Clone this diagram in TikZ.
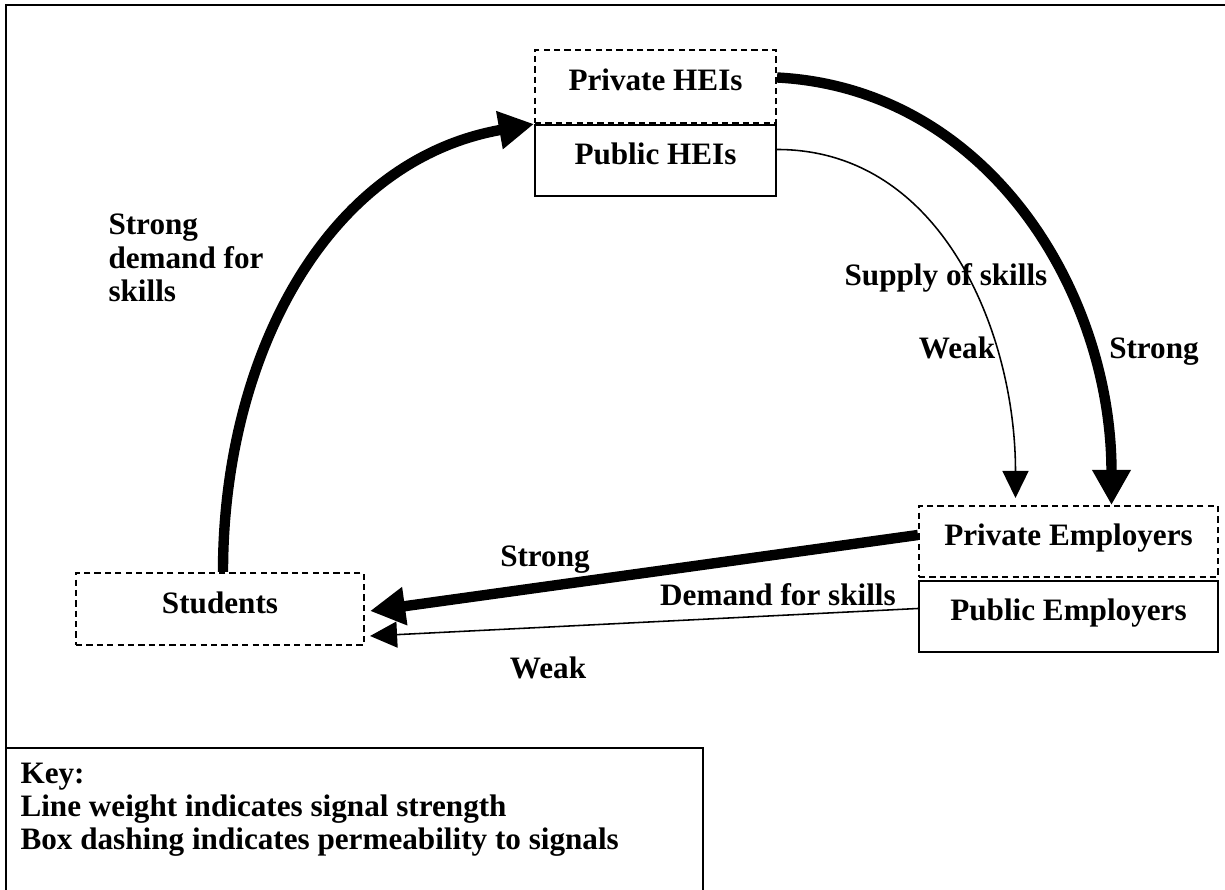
\documentclass[tikz,border=0pt]{standalone}
\usepackage{fontspec}
\setmainfont{Liberation Serif}
\usetikzlibrary{arrows.meta,calc}

\begin{document}
\begin{tikzpicture}[x=0.385pt,y=0.385pt,
        font=\bfseries\fontsize{12}{13}\selectfont,
        dashbox/.style={draw,line width=0.8pt,dash pattern=on 2.4pt off 1.6pt,inner sep=0pt,text height=9pt,text depth=5.6pt},
        solidbox/.style={draw,line width=0.8pt,inner sep=0pt,text height=9pt,text depth=5.6pt},
        strongsig/.style={line width=4pt,-{Triangle[length=13.5pt,width=14pt]}},
        weaksig/.style={line width=0.6pt,-{Triangle[length=10.4pt,width=10pt]}},
        lbl/.style={inner sep=0pt,text height=8pt,text depth=0pt}]
        \useasboundingbox (0,0) rectangle (1225,-890);
        %% Frame
        \draw[line width=0.8pt] (1230,-5) -- (6,-5) -- (6,-748);
        %% HEIs
        \node[dashbox,minimum width=92.8pt,minimum height=28.1pt] (prihei) at (655.5,-86.5) {Private HEIs};
        \node[solidbox,minimum width=92.8pt,minimum height=27.3pt] (pubhei) at (655.5,-160.5) {Public HEIs};
        %% Employers
        \node[dashbox,minimum width=115.1pt,minimum height=27.3pt] (priemp) at (1068.5,-541.5) {Private Employers};
        \node[solidbox,minimum width=115.1pt,minimum height=27.3pt] (pubemp) at (1068.5,-616.5) {Public Employers};
        %% Students
        \node[dashbox,minimum width=110.9pt,minimum height=27.7pt] (students) at (220,-609) {Students};
        %% Signals
        \draw[strongsig] ($(students.north)+(3,0)$) to[out=90,in=190] (prihei.south west);
        \draw[strongsig] ($(prihei.east)+(0,9)$) to[out=-3,in=90] ($(priemp.north)+(43,0)$);
        \draw[weaksig] ($(pubhei.east)+(0,11)$) to[out=0,in=90] ($(priemp.north)+(-53,7)$);
        \draw[strongsig] ($(priemp.west)+(0,6.5)$) -- ($(students.east)+(5,-2)$);
        \draw[weaksig] ($(pubemp.west)+(0,8)$) -- ($(students.east)+(5,-27)$);
        %% Labels
        \node[anchor=west,align=left,inner sep=0pt] (lbldemand) at (108,-258) {Strong\\demand for\\skills};
        \node[lbl] (lblsupply) at (946,-275) {Supply of skills};
        \node[lbl] (lblweaksup) at (957,-348) {Weak};
        \node[lbl] (lblstrongsup) at (1154,-348) {Strong};
        \node[lbl] (lblstrongdem) at (545,-556) {Strong};
        \node[lbl] (lbldemskills) at (778,-595) {Demand for skills};
        \node[lbl] (lblweakdem) at (548,-668) {Weak};
        %% Key
        \draw[line width=0.8pt] (6,-748) rectangle (703,-900);
        \node[anchor=west,align=left,inner sep=0pt,font=\bfseries\fontsize{12}{12.7}\selectfont] (keytxt) at (20,-810)
            {Key:\\Line weight indicates signal strength\\Box dashing indicates permeability to signals};
\end{tikzpicture}
\end{document}
